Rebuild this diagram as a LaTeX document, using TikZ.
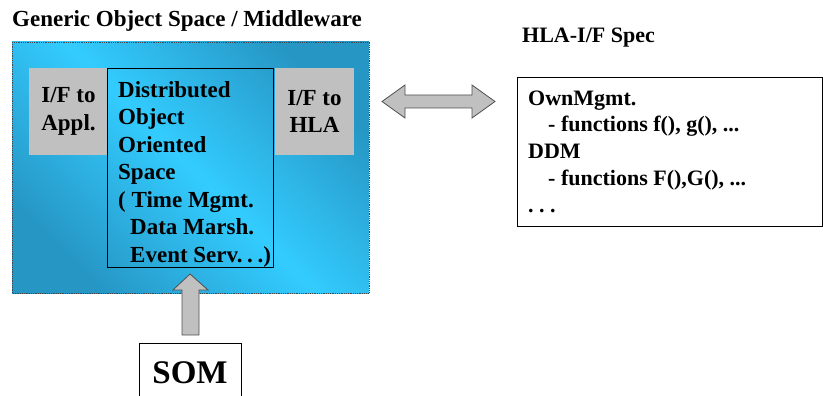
\documentclass[tikz,border=0pt]{standalone}
\usepackage{fontspec}
\setmainfont{Liberation Serif}
\definecolor{boxgray}{HTML}{C0C0C0}
\definecolor{arrowedge}{HTML}{505050}
\definecolor{skylight}{HTML}{33CCFF}
\definecolor{skydark}{HTML}{2696C4}
\definecolor{dotedge}{HTML}{404850}
\begin{document}
\begin{tikzpicture}[x=1pt,y=-1pt,
  bigfont/.style={font=\fontsize{23}{27.5}\selectfont\bfseries},
  specfont/.style={font=\fontsize{22}{26.75}\selectfont\bfseries},
  graybox/.style={fill=boxgray, minimum width=79pt, minimum height=87pt, inner sep=0pt, align=center, bigfont},
  blockarrow/.style={fill=boxgray, draw=arrowedge, line width=0.8pt, line join=miter},
  txt/.style={inner sep=0pt, anchor=base west, align=left}]
\useasboundingbox (0,0) rectangle (823,396);
\fill[white] (0,0) rectangle (823,396);
\clip (0,0) rectangle (823,396);

% title
\node[txt, bigfont] (title) at (12,27) {Generic Object Space / Middleware};

% blue middleware area
\shade[shading=axis, top color=skydark, bottom color=skydark, middle color=skylight, shading angle=-45]
  (12,42) rectangle (369,293);
\draw[dotedge, densely dotted, line width=0.8pt] (12,42) rectangle (369,293);

% grey interface boxes
\node[graybox] (ifappl) at (68.5,111.5) {I/F to\\Appl.};
\node[graybox] (ifhla) at (314.5,111.5) {I/F to\\HLA};

% central box
\node[draw, line width=1pt, anchor=north west, inner sep=0pt, minimum width=166pt, minimum height=199pt] (dos) at (107,68) {};
% anchor base west of a multi-line node = baseline of the last line
\node[txt, bigfont] (dostext) at (118,262) {Distributed\\Object\\Oriented\\Space\\( Time Mgmt.\\\hspace*{12pt}Data Marsh.\\\hspace*{12pt}Event Serv.\hspace{0.2em}.\hspace{0.2em}.)};

% HLA spec
\node[txt, font=\fontsize{22}{26}\selectfont\bfseries] (hlatitle) at (522,43) {HLA-I/F Spec};
\node[draw, line width=0.8pt, anchor=north west, inner sep=0pt, minimum width=305pt, minimum height=149pt] (spec) at (517,77) {};
\node[txt, specfont] (spectext) at (528,212) {OwnMgmt.\\\hspace*{20pt}- functions f(), g(), ...\\DDM\\\hspace*{20pt}- functions F(),G(), ...\\.\ .\ .};

% double block arrow between middleware and spec
\draw[blockarrow] (382,101.5) -- (405,85) -- (405,95) -- (472,95) -- (472,85) -- (495,101.5)
  -- (472,118) -- (472,108) -- (405,108) -- (405,118) -- cycle;

% SOM box
\node[draw, line width=0.8pt, anchor=north, inner sep=0pt, minimum width=102pt, minimum height=80pt] (som) at (190,343) {};
\node[inner sep=0pt, anchor=base, font=\fontsize{33}{38}\selectfont\bfseries] (somtext) at (190,383) {SOM};

% up block arrow from SOM to central box
\draw[blockarrow] (190,274) -- (208,290) -- (199,290) -- (199,335) -- (182,335) -- (182,290) -- (173,290) -- cycle;
\end{tikzpicture}
\end{document}
